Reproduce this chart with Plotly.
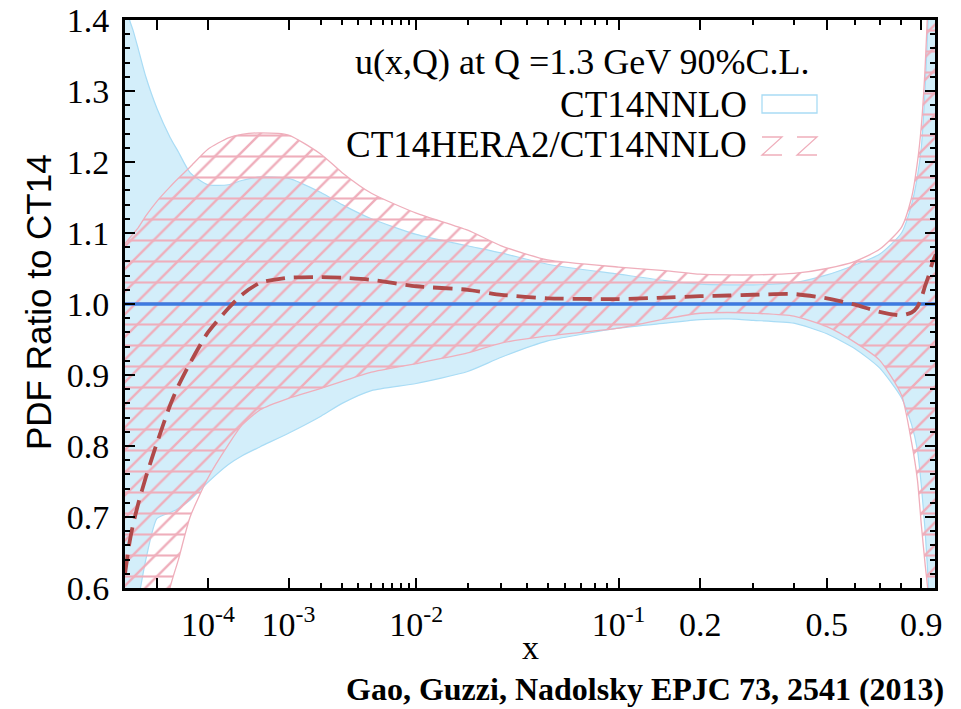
import numpy as np
import plotly.graph_objects as go

# ---------------- data ----------------
X = [1e-6, 1.5e-6, 2e-6, 3e-6, 5e-6, 1e-5, 2e-5, 3e-5, 5e-5, 1e-4, 2e-4, 3e-4,
     5e-4, 1e-3, 2e-3, 3e-3, 5e-3, 1e-2, 2e-2, 3e-2, 5e-2, 0.1, 0.15, 0.2, 0.25,
     0.3, 0.4, 0.5, 0.6, 0.7, 0.8, 0.85, 0.88, 0.9, 0.92, 0.94, 0.96, 0.98]

CT14NNLO_UP = [1.44, 1.40, 1.385, 1.358, 1.32, 1.275, 1.235, 1.214, 1.185, 1.168,
               1.168, 1.174, 1.179, 1.177, 1.157, 1.140, 1.120, 1.098, 1.082, 1.072,
               1.056, 1.042, 1.033, 1.028, 1.027, 1.027, 1.030, 1.041, 1.055, 1.070,
               1.100, 1.14, 1.18, 1.22, 1.30, 1.42, 1.55, 1.70]
CT14NNLO_LO = [0.45, 0.50, 0.55, 0.585, 0.64, 0.698, 0.706, 0.712, 0.724, 0.749,
               0.774, 0.786, 0.799, 0.818, 0.842, 0.860, 0.878, 0.888, 0.905, 0.925,
               0.948, 0.966, 0.973, 0.978, 0.979, 0.977, 0.973, 0.958, 0.937, 0.910,
               0.868, 0.830, 0.794, 0.745, 0.682, 0.60, 0.50, 0.40]
HERA2_UP = [1.085, 1.093, 1.099, 1.108, 1.124, 1.145, 1.165, 1.177, 1.193, 1.218,
            1.234, 1.239, 1.241, 1.238, 1.211, 1.185, 1.156, 1.128, 1.104, 1.082,
            1.062, 1.052, 1.047, 1.042, 1.041, 1.041, 1.043, 1.050, 1.060, 1.077,
            1.108, 1.15, 1.20, 1.25, 1.33, 1.45, 1.60, 1.75]
HERA2_LO = [0.30, 0.32, 0.34, 0.37, 0.42, 0.48, 0.60, 0.64, 0.70, 0.755,
            0.802, 0.829, 0.851, 0.867, 0.881, 0.891, 0.904, 0.916, 0.931, 0.945,
            0.955, 0.966, 0.979, 0.987, 0.988, 0.987, 0.983, 0.968, 0.946, 0.921,
            0.872, 0.805, 0.752, 0.69, 0.635, 0.585, 0.50, 0.40]
HERA2_CENTRAL = [0.62, 0.665, 0.69, 0.72, 0.756, 0.805, 0.857, 0.885, 0.917, 0.960,
                 0.994, 1.013, 1.030, 1.037, 1.038, 1.037, 1.034, 1.025, 1.020, 1.013,
                 1.008, 1.007, 1.009, 1.011, 1.012, 1.013, 1.014, 1.008, 0.999, 0.989,
                 0.984, 0.988, 0.996, 1.008, 1.025, 1.040, 1.058, 1.070]
NNLO_X = [1e-6, 0.98]
NNLO_CENTRAL = [1.0, 1.0]

MAJOR_X = [1e-5, 1e-4, 1e-3, 1e-2, 1e-1, 0.2, 0.5, 0.9]
MAJOR_LABELS = ["", "10<sup>-4</sup>", "10<sup>-3</sup>", "10<sup>-2</sup>",
                "10<sup>-1</sup>", "0.2", "0.5", "0.9"]
MINOR_X = [2e-3, 3e-3, 4e-3, 5e-3, 6e-3, 7e-3, 8e-3, 9e-3,
           2e-2, 3e-2, 4e-2, 5e-2, 6e-2, 7e-2, 8e-2, 9e-2,
           0.3, 0.4, 0.6, 0.7, 0.8]
Y_TICKS = [0.6, 0.7, 0.8, 0.9, 1.0, 1.1, 1.2, 1.3, 1.4]
Y_LABELS = ["0.6", "0.7", "0.8", "0.9", "1.0", "1.1", "1.2", "1.3", "1.4"]
X_RANGE = [1e-6, 0.975]
Y_RANGE = [0.6, 1.4]

TITLE = "u(x,Q) at Q =1.3 GeV 90%C.L."
LEG1 = "CT14NNLO"
LEG2 = "CT14HERA2/CT14NNLO"
YTITLE = "PDF Ratio to CT14"
XTITLE = "x"
CAPTION = "<b>Gao, Guzzi, Nadolsky EPJC 73, 2541 (2013)</b>"

# ---------------- styling ----------------
BLUE_FILL = "#d3eefa"
BLUE_EDGE = "#a9dcf5"
PINK = "#efaebb"
DASH_RED = "#b04a4a"
LINE_BLUE = "#3d7be0"
SERIF = "Liberation Serif"
SANS = "Liberation Sans"


def u(arr):
    # x^(1/5) scale used by the reference axis
    return np.power(np.asarray(arr, dtype=float), 0.2)


xu = u(X)
spl = dict(shape="spline", smoothing=0.6)
fig = go.Figure()

# CT14NNLO band
fig.add_trace(go.Scatter(x=xu, y=CT14NNLO_LO, mode="lines",
                         line=dict(color=BLUE_EDGE, width=1.2, **spl), hoverinfo="skip"))
fig.add_trace(go.Scatter(x=xu, y=CT14NNLO_UP, mode="lines", fill="tonexty",
                         fillcolor=BLUE_FILL,
                         line=dict(color=BLUE_EDGE, width=1.2, **spl), name=LEG1))

# CT14HERA2 band, hatched: closed outline built from the lower/upper edges
band_x = np.concatenate([xu, xu[::-1]])
band_y = np.concatenate([np.asarray(HERA2_LO), np.asarray(HERA2_UP)[::-1]])
for shp, sz, sol in (("-", 21, 0.1), ("/", 16, 0.15)):
    fig.add_trace(go.Scatter(x=band_x, y=band_y, mode="lines", fill="toself",
                             fillcolor="rgba(0,0,0,0)",
                             fillpattern=dict(shape=shp, size=sz, solidity=sol,
                                              fgcolor=PINK, bgcolor="rgba(0,0,0,0)"),
                             line=dict(color="rgba(0,0,0,0)", width=0, **spl),
                             hoverinfo="skip", name=LEG2))
for edge in (HERA2_LO, HERA2_UP):
    fig.add_trace(go.Scatter(x=xu, y=edge, mode="lines",
                             line=dict(color=PINK, width=1.3, **spl), hoverinfo="skip"))

# central lines
fig.add_trace(go.Scatter(x=u(NNLO_X), y=NNLO_CENTRAL, mode="lines",
                         line=dict(color=LINE_BLUE, width=3.5)))
fig.add_trace(go.Scatter(x=xu, y=HERA2_CENTRAL, mode="lines",
                         line=dict(color=DASH_RED, width=3.8, dash="19px,9px", **spl)))


def axis_common():
    return dict(ticks="inside", tickcolor="black", tickwidth=2, ticklen=10,
                showline=True, linecolor="black", linewidth=3, mirror="ticks",
                showgrid=False, zeroline=False, automargin=False)


fig.update_xaxes(range=list(u(X_RANGE)), tickmode="array", tickvals=list(u(MAJOR_X)),
                 ticktext=MAJOR_LABELS, ticklabelstandoff=4,
                 tickfont=dict(family=SERIF, size=34, color="black"),
                 minor=dict(tickmode="array", tickvals=list(u(MINOR_X)), ticks="inside",
                            ticklen=5, tickwidth=2, tickcolor="black", showgrid=False),
                 **axis_common())
fig.update_yaxes(range=Y_RANGE, tickmode="array", tickvals=Y_TICKS, ticktext=Y_LABELS,
                 ticklabelstandoff=6,
                 tickfont=dict(family=SERIF, size=34, color="black"),
                 minor=dict(dtick=0.02, tick0=0.6, ticks="inside", ticklen=5, tickwidth=2,
                            tickcolor="black", showgrid=False),
                 **axis_common())

L, R, T, B = 125, 26, 20, 121
W, H = 961, 709
PW, PH = W - L - R, H - T - B


def px(xp):
    return (xp - L) / PW


def py(yp):
    return (H - B - yp) / PH


annos = [
    dict(text=TITLE, x=px(812), y=py(62), xanchor="right", yanchor="middle",
         font=dict(family=SERIF, size=36, color="black")),
    dict(text=LEG1, x=px(749), y=py(104), xanchor="right", yanchor="middle",
         font=dict(family=SERIF, size=37, color="black")),
    dict(text=LEG2, x=px(749), y=py(144), xanchor="right", yanchor="middle",
         font=dict(family=SERIF, size=37, color="black")),
    dict(text=XTITLE, x=px(530), y=py(647), xanchor="center", yanchor="middle",
         font=dict(family=SERIF, size=34, color="black")),
    dict(text=YTITLE, x=px(38), y=py(302), xanchor="center",
         yanchor="middle", textangle=-90,
         font=dict(family=SANS, size=35, color="black")),
    dict(text=CAPTION, x=px(946), y=py(689), xanchor="right", yanchor="middle",
         font=dict(family=SERIF, size=32, color="black")),
]
for a in annos:
    a.update(xref="paper", yref="paper", showarrow=False)

# legend swatches (gnuplot style: to the right of the text)
shapes = [
    dict(type="rect", xref="paper", yref="paper", x0=px(762), x1=px(817),
         y0=py(113), y1=py(95), line=dict(color=BLUE_EDGE, width=1.3),
         fillcolor="white"),
]
for x0 in (762, 797):
    w = 20
    path = "M {a},{b} L {c},{b} L {a},{d} L {c},{d}".format(
        a=px(x0), c=px(x0 + w), b=py(137), d=py(155))
    shapes.append(dict(type="path", xref="paper", yref="paper", path=path,
                       line=dict(color=PINK, width=1.3)))

fig.update_layout(template="none", width=W, height=H,
                  margin=dict(l=L, r=R, t=T, b=B, autoexpand=False),
                  paper_bgcolor="white", plot_bgcolor="white",
                  showlegend=False, annotations=annos, shapes=shapes,
                  font=dict(family=SERIF, color="black"))

# remove the browser's default 8px body margin so the figure fills the window
fig.write_html("out.html", config={"displayModeBar": False},
               post_script="document.body.style.margin='0';"
                           "document.body.style.overflow='hidden';")
